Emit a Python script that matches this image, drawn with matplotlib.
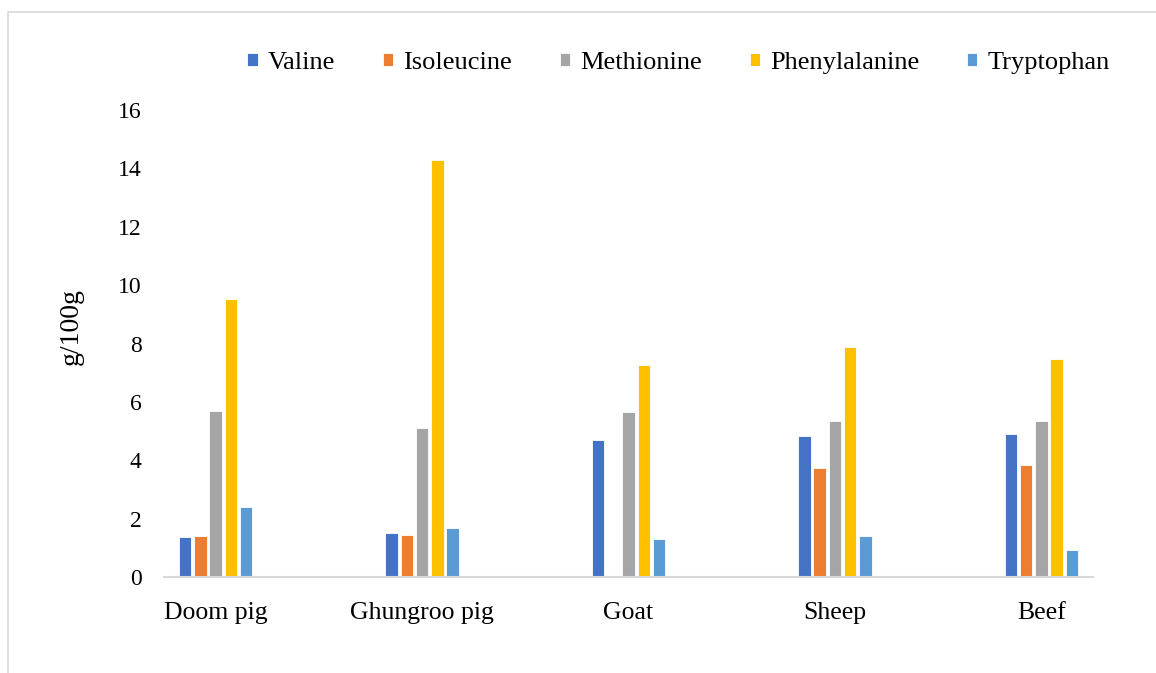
import matplotlib.pyplot as plt
import numpy as np
from matplotlib.patches import Rectangle

plt.rcParams['font.family'] = ['Liberation Serif', 'DejaVu Serif']

# Essential amino acid content of the meats (g/100g)
meats = ['Doom pig', 'Ghungroo pig', 'Goat', 'Sheep', 'Beef']
valine = [1.38, 1.50, 4.70, 4.82, 4.91]
isoleucine = [1.42, 1.44, 0.0, 3.72, 3.83]
methionine = [5.68, 5.09, 5.65, 5.34, 5.34]
phenylalanine = [9.52, 14.27, 7.28, 7.87, 7.46]
tryptophan = [2.40, 1.69, 1.31, 1.39, 0.91]

series = [
    ('Valine', valine, '#4472C4'),
    ('Isoleucine', isoleucine, '#ED7D31'),
    ('Methionine', methionine, '#A5A5A5'),
    ('Phenylalanine', phenylalanine, '#FFC000'),
    ('Tryptophan', tryptophan, '#5B9BD5'),
]

fig = plt.figure(figsize=(11.56, 6.73), dpi=100)
ax = fig.add_axes([164 / 1156, 1 - 577 / 673, (1093 - 164) / 1156, (577 - 110) / 673])

x = np.arange(len(meats))
step = 0.074
width = 0.06
for i, (name, vals, color) in enumerate(series):
    ax.bar(x + (i - 2) * step, vals, width, color=color, label=name,
           edgecolor='white', linewidth=0.6)

ax.set_xlim(-0.25, 4.25)
ax.set_ylim(0, 16)
ax.set_yticks(range(0, 17, 2))
ax.set_xticks(x)
ax.set_xticklabels(meats)
ax.tick_params(axis='y', length=0, pad=16, labelsize=17)
ax.tick_params(axis='x', length=0, pad=18, labelsize=18.5)

for side in ['top', 'right', 'left']:
    ax.spines[side].set_visible(False)
ax.spines['bottom'].set_color('#d9d9d9')
ax.spines['bottom'].set_linewidth(1.5)

fig.text(71 / 1156, 1 - 327 / 673, 'g/100g', rotation=90, fontsize=20,
         ha='center', va='center')

handles, labels = ax.get_legend_handles_labels()
fig.legend(handles, labels, loc='center', bbox_to_anchor=(0.587, 1 - 63 / 673),
           ncol=5, frameon=False, fontsize=19, handlelength=0.4,
           handleheight=0.4, handletextpad=0.38, columnspacing=1.8)

# light chart-area border
fig.patches.append(Rectangle((7.5 / 1156, -0.05), 1.2, 1 - 12 / 673 + 0.05,
                             transform=fig.transFigure, fill=False,
                             edgecolor='#d9d9d9', linewidth=1.2))

fig.savefig('out.png', dpi=100)
